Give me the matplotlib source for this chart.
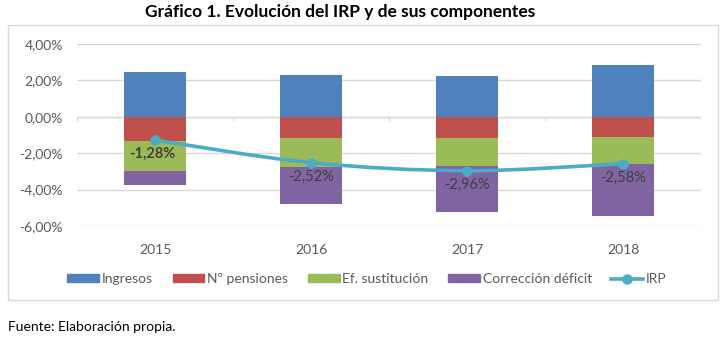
import matplotlib
matplotlib.use("Agg")
import matplotlib.pyplot as plt
import numpy as np
from matplotlib.path import Path
from matplotlib.patches import PathPatch, Rectangle, Patch
from matplotlib.lines import Line2D
from matplotlib.ticker import FuncFormatter

plt.rcParams["font.family"] = ["Lato", "DejaVu Sans"]

# --- data (percent) ---
years = ["2015", "2016", "2017", "2018"]
ingresos = [2.48, 2.28, 2.25, 2.85]
n_pensiones = [-1.35, -1.17, -1.15, -1.10]
ef_sustitucion = [-1.65, -1.59, -1.57, -1.50]
correccion_deficit = [-0.76, -2.04, -2.49, -2.83]
irp = [-1.28, -2.52, -2.96, -2.58]
irp_labels = ["-1,28%", "-2,52%", "-2,96%", "-2,58%"]

C_BLUE, C_RED, C_GREEN, C_PURPLE, C_LINE = "#4f81bd", "#c0504d", "#9bbb59", "#8064a2", "#4bacc6"
TXT = "#595959"

fig = plt.figure(figsize=(7.23, 3.40), dpi=100)
ax = fig.add_axes([77 / 723, 1 - 226 / 340, 624 / 723, 182 / 340])

x = np.arange(len(years))
w = 0.4
ax.bar(x, ingresos, w, color=C_BLUE, zorder=2)
ax.bar(x, n_pensiones, w, color=C_RED, zorder=2)
b2 = np.array(n_pensiones)
ax.bar(x, ef_sustitucion, w, bottom=b2, color=C_GREEN, zorder=2)
b3 = b2 + np.array(ef_sustitucion)
ax.bar(x, correccion_deficit, w, bottom=b3, color=C_PURPLE, zorder=2)

# smoothed IRP line (Catmull-Rom style bezier, like Excel's smooth line)
pts = np.column_stack([x, irp]).astype(float)
verts = [tuple(pts[0])]
codes = [Path.MOVETO]
for i in range(len(pts) - 1):
    p0 = pts[max(i - 1, 0)]
    p1, p2 = pts[i], pts[i + 1]
    p3 = pts[min(i + 2, len(pts) - 1)]
    c1 = p1 + (p2 - p0) / 6
    c2 = p2 - (p3 - p1) / 6
    verts += [tuple(c1), tuple(c2), tuple(p2)]
    codes += [Path.CURVE4] * 3
ax.add_patch(PathPatch(Path(verts, codes), fill=False, edgecolor=C_LINE, lw=2.6,
                       capstyle="round", zorder=4))
ax.plot(x, irp, "o", color=C_LINE, ms=6.5, zorder=5)

for i, (xi, yi) in enumerate(zip(x, irp)):
    ax.annotate(irp_labels[i], (xi, yi), xytext=(-2 if i == 0 else 0, -10),
                textcoords="offset points", ha="center", va="center", fontsize=10.5,
                color="#404040", fontweight="bold" if i == 0 else "normal", zorder=6)

ax.set_ylim(-6, 4)
ax.set_xlim(-0.5, 3.5)
ax.set_yticks(np.arange(-6, 4.1, 2))
ax.yaxis.set_major_formatter(FuncFormatter(lambda v, _: f"{v:.2f}%".replace(".", ",")))
ax.set_xticks(x)
ax.set_xticklabels(years)
ax.tick_params(axis="both", length=0, labelsize=10, colors=TXT)
ax.tick_params(axis="x", pad=13)
ax.tick_params(axis="y", pad=10)
ax.grid(axis="y", color="#d9d9d9", lw=1, zorder=0)
for s in ax.spines.values():
    s.set_visible(False)
ax.axhline(0, color="#d9d9d9", lw=1, zorder=1)
ax.vlines(np.arange(-0.5, 4, 1), -0.22, 0, color="#d9d9d9", lw=1, zorder=1)

handles = [Patch(color=C_BLUE), Patch(color=C_RED), Patch(color=C_GREEN), Patch(color=C_PURPLE),
           Line2D([], [], color=C_LINE, lw=2.6, marker="o", ms=6.5)]
names = ["Ingresos", "Nº pensiones", "Ef. sustitución", "Corrección déficit", "IRP"]
fig.legend(handles, names, loc="center", bbox_to_anchor=(367 / 723, 1 - 279 / 340), ncol=5,
           frameon=False, fontsize=10, labelcolor=TXT, handlelength=2.3, handleheight=0.5,
           handletextpad=0.2, columnspacing=1.4)

fig.patches.append(Rectangle((8 / 723, 1 - 300 / 340), 710 / 723, 275 / 340, transform=fig.transFigure,
                             fill=False, edgecolor="#d9d9d9", lw=1))
fig.text(340 / 723, 1 - 12 / 340, "Gráfico 1. Evolución del IRP y de sus componentes",
         ha="center", va="center", fontsize=12.5, fontweight="bold", color="black")
fig.text(8 / 723, 1 - 327 / 340, "Fuente: Elaboración propia.", ha="left", va="center",
         fontsize=10, color="black")

fig.savefig("out.png", dpi=100)
